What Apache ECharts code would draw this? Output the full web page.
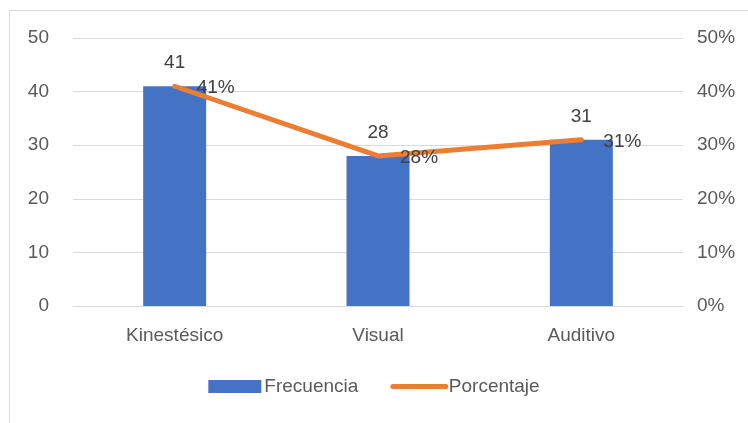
<!DOCTYPE html>
<html>
<head>
<meta charset="utf-8">
<script src="https://cdn.jsdelivr.net/npm/echarts@6/dist/echarts.min.js"></script>
<style>
  html, body { margin: 0; padding: 0; background: #fff; }
  #main { width: 748px; height: 423px; }
  .frame { position: absolute; left: 9px; top: 10px; width: 760px; height: 430px; border: 1px solid #d9d9d9; }
</style>
</head>
<body>
<div class="frame"></div>
<div id="main" style="position:absolute;left:0;top:0;"></div>
<script>
var categories = ['Kinestésico', 'Visual', 'Auditivo'];
var frecuencia = [41, 28, 31];
var porcentaje = [41, 28, 31];

var font = '"Liberation Sans", sans-serif';
var txt = '#595959';
var fs = 19;

var chart = echarts.init(document.getElementById('main'));
chart.setOption({
    animation: false,
    textStyle: { fontFamily: font },
    grid: { left: 73, right: 65, top: 38, bottom: 117 },
    legend: {
        bottom: 22,
        left: 'center',
        itemGap: 32,
        itemWidth: 53,
        itemHeight: 13,
        lineStyle: { width: 5, cap: 'round' },
        textStyle: { fontFamily: font, fontSize: fs, color: txt, padding: [0, 0, 0, -2] },
        data: [
            { name: 'Frecuencia', icon: 'rect' },
            { name: 'Porcentaje' }
        ]
    },
    xAxis: {
        type: 'category',
        data: categories,
        axisTick: { show: false },
        axisLine: { lineStyle: { color: '#d9d9d9', width: 1 } },
        axisLabel: { fontFamily: font, fontSize: fs, color: txt, margin: 20 }
    },
    yAxis: [
        {
            type: 'value', min: 0, max: 50, interval: 10,
            axisLine: { show: false }, axisTick: { show: false },
            axisLabel: { fontFamily: font, fontSize: fs, color: txt, margin: 24 },
            splitLine: { lineStyle: { color: '#d9d9d9' } }
        },
        {
            type: 'value', min: 0, max: 50, interval: 10,
            axisLine: { show: false }, axisTick: { show: false },
            axisLabel: { fontFamily: font, fontSize: fs, color: txt, margin: 14, formatter: '{value}%' },
            splitLine: { show: false }
        }
    ],
    series: [
        {
            name: 'Frecuencia',
            type: 'bar',
            data: frecuencia,
            barWidth: 63,
            itemStyle: { color: '#4472C4' },
            label: { show: true, position: 'top', distance: 14, fontFamily: font, fontSize: fs, color: '#404040' }
        },
        {
            name: 'Porcentaje',
            type: 'line',
            yAxisIndex: 1,
            data: porcentaje,
            symbol: 'circle',
            symbolSize: 2,
            showSymbol: true,
            lineStyle: { color: '#ED7D31', width: 5, cap: 'round' },
            itemStyle: { color: 'rgba(0,0,0,0)', borderWidth: 0 },
            label: { show: true, position: 'right', distance: 21, offset: [0, 2], formatter: '{c}%', fontFamily: font, fontSize: fs, color: '#404040' }
        }
    ]
});
</script>
</body>
</html>
